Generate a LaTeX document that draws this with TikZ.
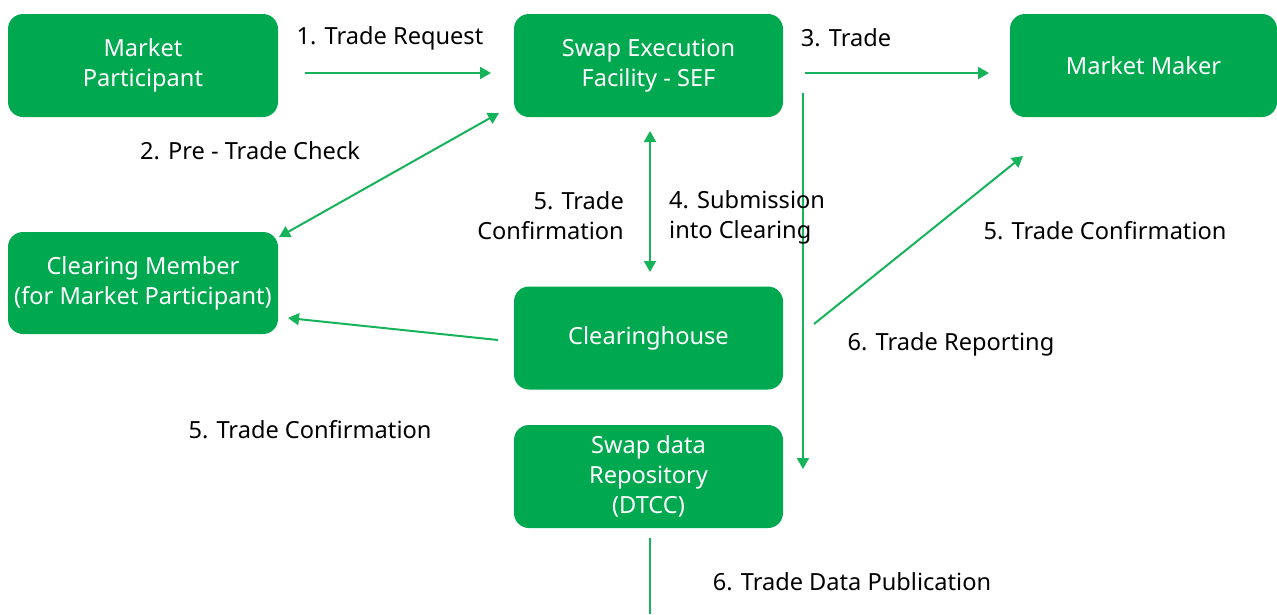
\documentclass[tikz,border=0pt]{standalone}
\usepackage{fontspec}
\setmainfont{Noto Sans}
\usetikzlibrary{arrows.meta}
\definecolor{boxgreen}{HTML}{00A94F}
\definecolor{linegreen}{HTML}{16B35A}
\tikzset{
  box/.style={fill=boxgreen, rounded corners=15pt, minimum width=269pt, minimum height=103pt, text=white, align=center, font=\fontsize{23.6}{30}\selectfont, inner sep=0pt},
  conn/.style={draw=linegreen, line width=2pt, -{Triangle[length=11pt,width=12pt]}},
  biconn/.style={draw=linegreen, line width=2pt, {Triangle[length=11pt,width=12pt]}-{Triangle[length=11pt,width=12pt]}},
  plain/.style={draw=linegreen, line width=2pt},
  lbl/.style={text=black, font=\fontsize{23.6}{30}\selectfont, inner sep=0pt}
}
\begin{document}
\begin{tikzpicture}[x=1pt,y=-1pt]
\useasboundingbox (0,0) rectangle (1277,614);
\node[box, minimum width=270pt] (mp) at (143,65.5) {Market\\Participant};
\node[box] (sef) at (648.5,65.5) {Swap Execution\\Facility - SEF};
\node[box, minimum width=267pt] (mm) at (1143.5,65.5) {Market Maker};
\node[box, minimum width=270pt, minimum height=102pt] (cm) at (143,283) {Clearing Member\\(for Market Participant)};
\node[box] (ch) at (648.5,338) {Clearinghouse};
\node[box] (sdr) at (648.5,476.5) {Swap data\\Repository\\(DTCC)};

\coordinate (a1s) at (305,73); \coordinate (a1e) at (491,73);
\draw[conn] (a1s) -- (a1e);
\coordinate (a2s) at (279,237); \coordinate (a2e) at (499,113);
\draw[biconn] (a2s) -- (a2e);
\coordinate (a3s) at (805,73); \coordinate (a3e) at (989,73);
\draw[conn] (a3s) -- (a3e);
\coordinate (a4s) at (650,131); \coordinate (a4e) at (650,272);
\draw[biconn] (a4s) -- (a4e);
\coordinate (a5s) at (803,93); \coordinate (a5e) at (803,469);
\draw[conn] (a5s) -- (a5e);
\coordinate (a6s) at (498,340); \coordinate (a6e) at (288,318);
\draw[conn] (a6s) -- (a6e);
\coordinate (a7s) at (814,324); \coordinate (a7e) at (1023,156);
\draw[conn] (a7s) -- (a7e);
\coordinate (a8s) at (650,538); \coordinate (a8e) at (650,614);
\draw[plain] (a8s) -- (a8e);

\node[lbl] (l1) at (390,38) {1. Trade Request};
\node[lbl] (l3) at (846,38) {3. Trade};
\node[lbl] (l2) at (250,151) {2. Pre - Trade Check};
\node[lbl, align=right, anchor=east] (l5a) at (624,216) {5. Trade\\Confirmation};
\node[lbl, align=left, anchor=west] (l4) at (669,217) {4. Submission\\into Clearing};
\node[lbl] (l5b) at (1105,231) {5. Trade Confirmation};
\node[lbl] (l6a) at (951,344) {6. Trade Reporting};
\node[lbl] (l5c) at (310,430) {5. Trade Confirmation};
\node[lbl] (l6b) at (852,582) {6. Trade Data Publication};
\end{tikzpicture}
\end{document}
